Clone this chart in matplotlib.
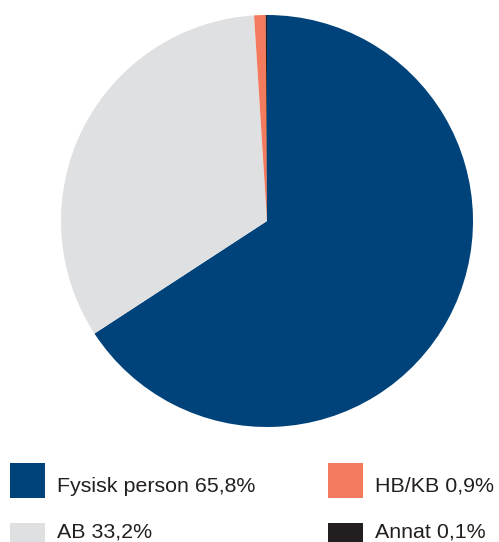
import matplotlib
matplotlib.use("Agg")
import matplotlib.pyplot as plt
from matplotlib.patches import Rectangle

categories = ["Fysisk person", "AB", "HB/KB", "Annat"]
shares = [65.8, 33.2, 0.9, 0.1]
colors = ["#00437b", "#dfe0e2", "#f37a5c", "#231f20"]

W, H = 499, 542
fig = plt.figure(figsize=(W / 100, H / 100), dpi=100)
plt.rcParams["font.family"] = ["Liberation Sans", "DejaVu Sans"]

# pie area in pixel coordinates
cx, cy, r = 267, 221, 206
ax = fig.add_axes([(cx - r) / W, (H - cy - r) / H, 2 * r / W, 2 * r / H])
ax.pie(shares, colors=colors, startangle=90, counterclock=False,
       radius=1, wedgeprops=dict(linewidth=0))
ax.set_xlim(-1, 1)
ax.set_ylim(-1, 1)
ax.set_aspect("equal")
ax.axis("off")

# legend: two columns, two rows, filled squares with labels
col_x = [10, 328]
row_y = [463, 523]
baseline = [492, 537]
box = 35
order = [(0, 0), (1, 0), (0, 1), (1, 1)]  # (row, col) per category
for (row, col), name, val, c in zip(order, categories, shares, colors):
    x0, y0 = col_x[col], row_y[row]
    fig.patches.append(Rectangle((x0 / W, 1 - (y0 + box) / H), box / W, box / H,
                                 transform=fig.transFigure, facecolor=c,
                                 edgecolor="none"))
    label = f"{name} {val:.1f}%".replace(".", ",")
    fig.text((x0 + 47) / W, 1 - baseline[row] / H, label, fontsize=15.4,
             color="#231f20", va="baseline", ha="left")

fig.savefig("out.png", dpi=100)
